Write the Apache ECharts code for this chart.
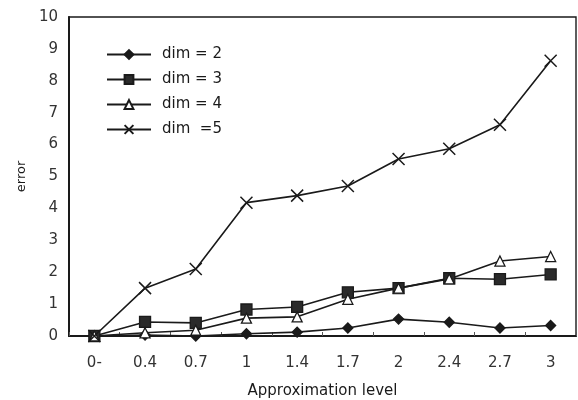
<!DOCTYPE html>
<html>
<head>
<meta charset="utf-8">
<script src="https://cdn.jsdelivr.net/npm/echarts@6/dist/echarts.min.js"></script>
<style>
  html, body { margin: 0; padding: 0; background: #fff; }
  #chart { width: 578px; height: 400px; }
</style>
</head>
<body>
<div id="chart"></div>
<script>
// Approximation levels along the x axis
const levels = ['0-', '0.4', '0.7', '1', '1.4', '1.7', '2', '2.4', '2.7', '3'];

// Error per approximation level, one array per dimension
const dim2 = [0, 0.03, 0, 0.07, 0.12, 0.25, 0.53, 0.43, 0.25, 0.33];
const dim3 = [0, 0.44, 0.41, 0.83, 0.91, 1.37, 1.5, 1.81, 1.78, 1.93];
const dim4 = [0, 0.1, 0.18, 0.56, 0.6, 1.15, 1.5, 1.79, 2.35, 2.49];
const dim5 = [0, 1.5, 2.1, 4.18, 4.4, 4.7, 5.55, 5.87, 6.62, 8.63];

const seriesNames = ['dim = 2', 'dim = 3', 'dim = 4', 'dim  =5'];
const yTicks = { min: 0, max: 10, interval: 1 };

const ink = '#1a1a1a';
const crossPath = 'path://M0,0L10,10M10,0L0,10';

function lineSeries(name, data, symbol, size, fill, extra) {
  return Object.assign({
    name: name,
    type: 'line',
    data: data,
    symbol: symbol,
    symbolSize: size,
    showAllSymbol: true,
    lineStyle: { color: ink, width: 1.6 },
    itemStyle: { color: fill, borderColor: ink, borderWidth: 1.3 },
    emphasis: { disabled: true },
    animation: false
  }, extra || {});
}

const chart = echarts.init(document.getElementById('chart'));
chart.setOption({
  backgroundColor: '#fff',
  textStyle: { fontFamily: 'DejaVu Sans, sans-serif' },
  grid: {
    left: 69, right: 2, top: 17, bottom: 64,
    outerBoundsMode: 'none',
    show: true, borderColor: ink, borderWidth: 1.4, backgroundColor: 'transparent'
  },
  legend: {
    left: 101, top: 42, orient: 'vertical',
    itemWidth: 44, itemHeight: 11, itemGap: 10,
    textStyle: { color: ink, fontSize: 15, padding: [0, 0, 0, 6] },
    data: seriesNames
  },
  xAxis: {
    type: 'category',
    data: levels,
    boundaryGap: true,
    name: 'Approximation level',
    nameLocation: 'middle',
    nameGap: 48,
    nameTextStyle: { color: ink, fontSize: 15, letterSpacing: 1 },
    axisLine: { lineStyle: { color: ink, width: 2 } },
    axisTick: { show: true, inside: true, length: 4, lineStyle: { color: '#555', width: 1 } },
    axisLabel: { color: '#333', fontSize: 15, margin: 20 },
    splitLine: { show: false }
  },
  yAxis: {
    type: 'value',
    min: yTicks.min, max: yTicks.max, interval: yTicks.interval,
    name: 'error',
    nameLocation: 'middle',
    nameGap: 41,
    nameRotate: 90,
    nameTextStyle: { color: ink, fontSize: 13 },
    axisLine: { show: true, lineStyle: { color: ink, width: 2 } },
    axisTick: { show: false },
    axisLabel: { color: '#333', fontSize: 15, margin: 11 },
    splitLine: { show: false }
  },
  series: [
    lineSeries(seriesNames[0], dim2, 'diamond', 10, ink),
    lineSeries(seriesNames[1], dim3, 'rect', 11, '#2a2a2a'),
    lineSeries(seriesNames[2], dim4, 'triangle', 10, '#fff'),
    lineSeries(seriesNames[3], dim5, crossPath, 12, 'none', {
      itemStyle: { color: 'none', borderColor: ink, borderWidth: 1.5 }
    })
  ]
});
</script>
</body>
</html>
